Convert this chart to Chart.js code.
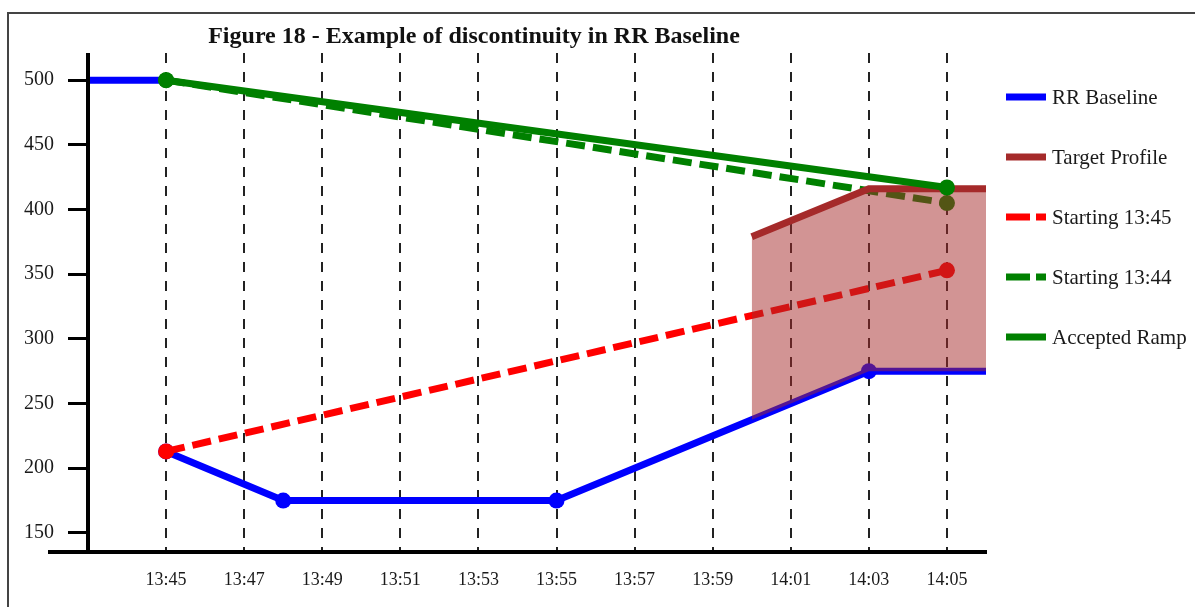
<!DOCTYPE html>
<html><head><meta charset="utf-8">
<script src="https://cdn.jsdelivr.net/npm/chart.js@4.4.0/dist/chart.umd.min.js"></script>
<style>
html,body{margin:0;padding:0;background:#fff;overflow:hidden}
#frame{position:absolute;left:7px;top:12px;width:1400px;height:800px;border:2px solid #444;box-sizing:border-box}
#wrap{position:absolute;left:0;top:0;width:1195px;height:607px}
</style></head><body>
<div id="frame"></div>
<div id="wrap"><canvas id="c" width="1195" height="607"></canvas></div>
<script>
const titleText = 'Figure 18 - Example of discontinuity in RR Baseline';
const xTickMinutes = [45,47,49,51,53,55,57,59,61,63,65];
const yTickValues = [150,200,250,300,350,400,450,500];
const seriesNames = ['RR Baseline','Target Profile','Starting 13:45','Starting 13:44','Accepted Ramp'];
const baselineMinutes = [43,45,45,45,48,55,63,66];
const baselineValues  = [500,500,null,213,175,175,275,275];
const baselineDots    = [0,0,0,8,8,8,8,0];
const targetMinutes = [60,63,66];
const targetValues  = [379,416,416];
const start1345Minutes = [45,65];
const start1345Values  = [213,353];
const start1344Minutes = [45,65];
const start1344Values  = [500,405];
const acceptedMinutes = [45,65];
const acceptedValues  = [500,417];

const fmt = m => { const h = m >= 60 ? 14 : 13; const mm = m >= 60 ? m - 60 : m; return h + ':' + String(mm).padStart(2,'0'); };
const pts = (xs, ys) => xs.map((x,i) => ({x: x, y: ys[i]}));
const SERIF = '"Liberation Serif", "Times New Roman", serif';

const decor = {
  id: 'decor',
  afterDraw(chart) {
    const ctx = chart.ctx, a = chart.chartArea;
    ctx.save();
    ctx.strokeStyle = '#000'; ctx.lineWidth = 4; ctx.setLineDash([]);
    ctx.beginPath(); ctx.moveTo(a.left, a.top); ctx.lineTo(a.left, a.bottom + 2); ctx.stroke();
    ctx.beginPath(); ctx.moveTo(48, a.bottom + 1); ctx.lineTo(a.right + 1, a.bottom + 1); ctx.stroke();
    ctx.fillStyle = '#111'; ctx.font = 'bold 24px ' + SERIF; ctx.textAlign = 'center'; ctx.textBaseline = 'middle';
    ctx.fillText(titleText, 474, 37);
    ctx.textAlign = 'left';
    ctx.font = '21px ' + SERIF;
    chart.data.datasets.forEach((ds, i) => {
      const y = 97 + 60 * i;
      ctx.strokeStyle = ds.borderColor; ctx.lineWidth = 7; ctx.lineCap = 'butt';
      ctx.setLineDash(ds.borderDash && ds.borderDash.length ? [24, 6] : []);
      ctx.beginPath(); ctx.moveTo(1006, y); ctx.lineTo(1046, y); ctx.stroke();
      ctx.setLineDash([]);
      ctx.fillStyle = '#1a1a1a';
      ctx.fillText(ds.label, 1052, y + 1);
    });
    ctx.restore();
  }
};

new Chart(document.getElementById('c'), {
  type: 'line',
  data: {
    datasets: [
      { label: seriesNames[0], data: pts(baselineMinutes, baselineValues), borderColor: '#0000ff', backgroundColor: '#0000ff',
        borderWidth: 7, pointRadius: baselineDots, pointBorderWidth: 0, pointBackgroundColor: '#0000ff', spanGaps: false, order: 6 },
      { label: seriesNames[1], data: pts(targetMinutes, targetValues), borderColor: '#a52a2a', backgroundColor: 'rgba(165,42,42,0.5)',
        borderWidth: 7, pointRadius: 0, fill: 0, order: 3 },
      { label: seriesNames[2], data: pts(start1345Minutes, start1345Values), borderColor: '#ff0000', backgroundColor: '#ff0000',
        borderWidth: 7, borderDash: [19, 8], pointRadius: 8, pointBorderWidth: 0, pointBackgroundColor: '#ff0000', order: 4 },
      { label: seriesNames[3], data: pts(start1344Minutes, start1344Values), borderColor: '#008000', backgroundColor: '#008000',
        borderWidth: 7, borderDash: [19, 8], pointRadius: 8, pointBorderWidth: 0, pointBackgroundColor: '#008000', order: 5 },
      { label: seriesNames[4], data: pts(acceptedMinutes, acceptedValues), borderColor: '#008000', backgroundColor: '#008000',
        borderWidth: 7, pointRadius: 8, pointBorderWidth: 0, pointBackgroundColor: '#008000', order: 1 }
    ]
  },
  options: {
    responsive: false, animation: false, devicePixelRatio: 1, events: [],
    layout: { padding: { top: 53, right: 209, left: 0, bottom: 0 } },
    plugins: { legend: { display: false }, title: { display: false }, tooltip: { enabled: false } },
    scales: {
      x: {
        type: 'linear', min: 43, max: 66,
        afterBuildTicks: s => { s.ticks = xTickMinutes.map(v => ({ value: v })); },
        afterFit: s => { s.height = 56; },
        ticks: { callback: v => fmt(v), font: { family: SERIF, size: 18 }, color: '#1a1a1a', padding: 18, maxRotation: 0, autoSkip: false },
        grid: { color: '#222', lineWidth: 2, drawTicks: false },
        border: { display: false, dash: [10, 9] }
      },
      y: {
        min: 136, max: 521,
        afterBuildTicks: s => { s.ticks = yTickValues.map(v => ({ value: v })); },
        afterFit: s => { s.width = 88; },
        ticks: { font: { family: SERIF, size: 20 }, color: '#1a1a1a', padding: 14 },
        grid: { drawOnChartArea: false, drawTicks: true, tickLength: 20, tickWidth: 3, tickColor: '#000' },
        border: { display: false }
      }
    }
  },
  plugins: [decor]
});
</script>
</body></html>
